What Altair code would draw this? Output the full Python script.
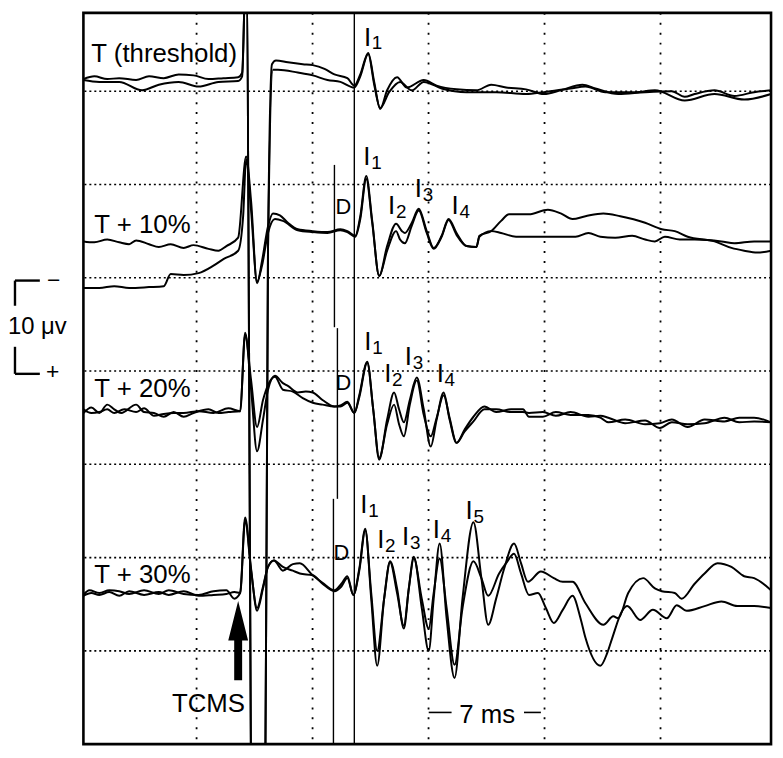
import altair as alt
import pandas as pd

# ---------------- data: time (ms) and potential (µV, plotted position) ----------------
# Sweep "T (threshold)"
t1a = [-6.83,-6.17,-5.39,-4.67,-3.65,-2.87,-1.98,-1.08,-0.18,0.72,1.62,2.51,2.75,2.99,3.41,4.07,4.31,4.55,4.79,5.51,6.41,7.01,7.72,8.32,9.10,9.52,9.88,10.36,10.72,11.08,11.50,12.10,12.69,13.71,14.49,15.69,16.89,17.78,18.68,19.88,20.96,21.98,23.29,24.07,25.45,27.07,28.68,29.46,30.06,31.26,32.46,33.65,34.67]
v1a = [71.3,71.6,71.3,71.4,71.2,71.6,71.4,71.8,71.7,71.3,71.4,71.5,72.0,84.8,-26.9,-26.9,52.9,72.9,73.3,73.1,72.9,72.8,72.4,71.8,71.4,70.6,71.8,74.1,71.0,68.1,70.1,71.5,70.4,71.2,70.6,70.2,70.1,70.7,70.4,70.2,69.7,70.1,70.7,70.3,69.7,69.9,70.0,69.4,69.7,70.1,69.5,69.9,70.1]
t1b = [-6.83,-5.87,-4.67,-3.29,-2.28,-1.08,0.12,1.32,2.51,2.75,2.99,3.41,4.07,4.31,4.61,4.91,6.11,7.01,7.90,8.68,9.52,9.88,10.36,10.72,11.08,11.62,12.28,12.99,13.71,14.79,16.29,18.08,19.88,20.96,22.57,23.47,24.67,26.47,27.66,29.46,31.26,33.05,34.67]
v1b = [71.2,71.0,71.0,70.1,70.7,71.0,70.5,71.0,71.1,71.6,84.8,-26.9,-26.9,52.9,72.3,72.3,72.0,71.7,71.2,71.0,70.4,71.6,74.0,70.7,68.2,69.9,71.0,70.1,71.0,70.3,69.9,69.9,69.7,69.9,70.3,70.5,69.9,69.9,70.1,69.0,69.7,69.1,69.7]

# Sweep "T + 10%"
t2a = [-6.83,-6.17,-5.39,-4.67,-4.07,-3.65,-2.87,-2.28,-1.56,-0.78,-0.18,0.72,1.32,1.80,2.51,2.99,3.29,3.65,3.95,4.31,4.61,5.03,5.51,6.11,7.01,7.90,8.68,9.10,9.58,9.88,10.24,10.60,11.02,11.50,12.04,12.40,12.57,12.99,13.41,13.89,14.31,14.79,15.21,15.69,16.29,16.89,17.07,17.78,18.38,18.86,20.06,21.20,21.98,22.69,23.47,24.55,25.57,27.07,28.08,28.86,29.64,31.26,32.28,33.05,33.83,34.67]
v2a = [53.9,53.8,54.1,53.8,53.6,54.0,53.6,53.3,53.6,53.2,53.5,53.1,52.9,53.4,54.3,63.0,58.2,49.4,51.8,55.5,56.9,56.7,55.9,55.2,55.0,54.9,55.2,55.0,54.5,56.6,60.9,56.1,50.2,53.4,55.8,55.0,54.8,55.9,57.4,55.0,53.2,54.5,56.3,54.8,53.4,53.3,54.5,55.0,56.1,56.8,56.8,57.3,56.9,56.3,56.6,56.9,56.6,55.9,55.2,55.0,54.4,53.9,53.2,52.9,52.7,52.9]
t2b = [-6.83,-5.87,-4.97,-4.07,-2.87,-1.98,-1.56,-0.78,0.12,1.02,1.62,2.51,2.81,2.99,3.29,3.65,3.95,4.31,4.73,5.21,6.11,7.01,7.90,8.68,9.10,9.58,9.88,10.24,10.60,11.02,11.50,12.04,12.28,12.57,12.99,13.41,13.89,14.31,14.79,15.21,15.69,16.29,16.89,17.07,17.78,18.38,19.28,20.48,21.68,22.87,23.65,24.37,25.27,26.29,27.07,27.66,28.26,29.16,30.06,31.68,32.46,33.65,34.67]
v2b = [48.9,48.9,49.1,48.9,49.0,49.1,50.4,50.3,50.5,51.3,52.0,52.9,56.6,62.7,57.2,49.6,51.3,54.8,56.3,56.1,55.1,54.9,54.8,55.1,54.9,54.4,56.3,60.6,55.9,50.2,52.9,55.0,54.1,53.7,55.6,57.2,54.8,53.1,54.4,56.2,54.6,53.4,53.3,54.4,55.0,54.8,54.4,54.4,54.4,54.4,54.8,54.4,54.3,54.5,54.1,53.9,54.4,54.1,54.1,53.9,53.7,53.9,53.9]

# Sweep "T + 20%"
t3a = [-6.83,-6.35,-5.87,-5.39,-4.97,-4.55,-3.65,-3.17,-2.57,-1.98,-1.38,-0.78,-0.18,0.72,1.32,1.92,2.63,2.93,3.29,3.65,4.01,4.31,4.73,5.21,5.51,6.11,6.59,7.01,7.60,8.32,8.68,9.10,9.52,9.82,10.30,10.66,11.02,11.50,11.92,12.22,12.51,12.87,13.29,13.71,14.13,14.49,14.91,15.27,15.69,16.17,16.71,17.37,18.08,18.98,19.70,20.06,20.90,21.68,22.57,23.65,24.37,24.85,25.87,27.07,27.96,28.68,29.64,30.66,31.86,32.75,33.65,34.67]
v3a = [35.5,36.1,35.5,36.4,35.9,35.5,36.4,35.6,35.5,35.1,35.6,35.1,35.5,35.9,35.5,35.6,35.7,44.1,38.0,31.4,34.8,38.0,39.5,38.7,38.4,37.7,37.8,37.7,36.9,36.2,36.3,36.7,35.5,37.4,41.0,35.9,30.5,34.8,37.7,35.9,34.5,36.9,39.3,35.9,31.9,34.8,37.7,34.8,32.3,33.7,35.1,36.2,35.6,35.9,35.9,35.1,35.1,35.6,35.3,35.3,35.0,34.5,34.8,34.3,34.4,34.8,34.0,34.8,34.6,35.0,35.0,34.5]
t3b = [-6.83,-6.35,-5.87,-5.39,-4.97,-4.37,-3.65,-3.17,-2.57,-1.98,-1.38,-0.78,0.12,1.02,1.92,2.63,2.93,3.29,3.65,4.01,4.31,4.73,5.21,5.81,6.41,7.01,7.60,8.32,8.68,9.10,9.52,9.82,10.30,10.66,11.02,11.50,11.92,12.22,12.51,12.87,13.29,13.71,14.13,14.49,14.91,15.27,15.69,16.17,16.71,17.37,18.08,18.98,19.70,20.06,20.90,21.68,22.57,23.65,24.37,24.85,25.87,27.07,27.96,28.68,29.64,30.66,31.86,32.75,33.65,34.67]
v3b = [35.9,35.5,35.6,35.9,35.5,35.9,35.6,36.0,35.2,35.4,35.5,35.5,35.7,35.5,36.0,35.7,43.9,39.0,34.0,36.9,38.5,39.4,38.0,37.8,37.1,36.6,36.4,36.2,36.2,36.6,35.5,37.2,40.9,35.9,30.7,34.3,36.4,34.3,33.0,36.4,39.0,35.3,33.0,35.0,37.4,35.0,32.3,33.5,34.6,35.9,35.9,35.6,35.6,35.5,35.6,35.2,35.6,35.1,35.2,35.0,34.4,34.7,33.9,34.5,34.3,34.4,35.0,34.5,34.6,34.5]

# Sweep "T + 30%"
t4a = [-6.83,-6.47,-5.87,-5.27,-4.67,-4.07,-3.17,-2.28,-1.68,-0.78,0.12,1.02,1.80,2.28,2.63,2.93,3.29,3.65,4.01,4.31,4.67,5.21,5.81,6.23,7.01,7.60,8.32,8.74,9.10,9.46,9.82,10.18,10.54,10.90,11.32,11.68,12.10,12.51,12.81,13.11,13.59,14.01,14.31,14.67,15.09,15.57,16.05,16.71,17.19,17.60,18.08,18.56,19.16,19.58,20.00,20.78,21.56,22.10,22.69,23.47,24.55,25.15,25.45,26.05,26.95,27.66,28.08,28.86,29.28,30.06,30.66,31.44,32.28,33.05,33.65,34.67]
v4a = [16.0,16.5,16.2,16.5,16.4,16.1,16.5,16.1,16.5,16.1,16.0,16.4,16.5,15.6,16.2,24.3,18.8,14.3,16.7,19.0,19.7,19.0,18.6,18.3,18.1,17.2,16.4,16.9,17.8,16.0,18.8,23.1,15.6,8.4,15.6,19.6,16.7,12.4,16.7,20.1,14.6,10.0,15.6,21.5,13.5,7.1,15.6,23.8,17.8,12.8,15.6,18.8,21.5,19.4,17.4,18.5,17.8,17.4,17.4,15.1,12.8,13.7,13.5,16.2,17.8,16.7,16.4,16.2,15.6,17.2,18.3,19.4,19.0,18.0,17.8,16.5]
t4b = [-6.83,-6.35,-5.87,-5.27,-4.67,-4.07,-3.17,-2.28,-1.68,-0.78,0.12,1.02,1.80,2.28,2.63,2.93,3.29,3.65,4.01,4.31,4.67,5.21,5.81,6.23,7.01,7.60,8.32,8.74,9.10,9.46,9.82,10.18,10.54,10.90,11.32,11.68,12.10,12.51,12.81,13.11,13.59,14.01,14.31,14.67,15.09,15.57,16.05,16.71,17.19,17.60,18.26,18.68,19.16,19.58,20.06,20.60,21.08,21.56,22.10,22.69,23.17,23.47,24.37,24.79,25.09,25.69,25.99,26.77,27.54,28.38,28.98,29.58,30.66,31.68,32.63,33.65,34.67]
v4b = [15.9,16.2,16.0,16.3,15.9,16.4,16.0,16.3,16.0,16.4,15.9,16.0,16.1,16.3,16.2,24.0,18.6,14.6,16.9,19.0,19.7,18.6,19.3,19.4,18.1,17.3,16.5,17.2,18.0,16.0,18.6,22.9,16.2,10.0,15.6,19.5,16.2,12.7,16.7,19.9,15.6,12.4,16.2,19.9,14.6,8.5,14.6,19.6,17.8,15.9,18.3,19.4,20.4,18.3,16.0,16.2,14.6,13.0,14.4,15.9,13.5,11.4,8.4,9.8,11.4,14.3,14.8,13.3,14.4,13.5,14.9,14.3,14.8,15.3,14.8,14.8,14.6]

# grid (ms, µV)
grid_t = [0, 7, 14, 21, 28]
grid_v = [10, 20, 30, 40, 50, 60, 70]

# sweep names
sweep_labels = ["T (threshold)", "T + 10%", "T + 20%", "T + 30%"]
sweep_label_t = [-6.35, -6.17, -6.17, -6.17]
sweep_label_v = [73.1, 54.8, 37.2, 17.3]

# wave labels (I-waves)
wave_sub = ["1", "1", "2", "3", "4", "1", "2", "3", "4", "1", "2", "3", "4", "5"]
wave_t = [10.1, 10.06, 11.56, 13.17, 15.39, 10.12, 11.32, 12.57, 14.49, 9.88, 10.90, 12.40, 14.25, 16.23]
wave_v = [74.9, 62.1, 56.8, 58.7, 56.8, 42.3, 38.8, 40.6, 38.8, 24.8, 21.0, 21.4, 22.1, 24.1]

# D-wave labels
d_t = [8.38, 8.38, 8.26]
d_v = [56.8, 38.0, 19.7]

# latency markers (solid vertical lines)
mark_t = [9.52, 8.32, 8.50, 8.26]
mark_v1 = [0.0, 44.7, 26.3, 0.0]
mark_v2 = [78.4, 62.1, 44.6, 26.3]

X_MIN, X_MAX = -6.83, 34.67
Y_MIN, Y_MAX = 0.0, 78.4

# ---------------- build tables ----------------
rows = []
for name, ts, vs in [("1a", t1a, v1a), ("1b", t1b, v1b), ("2a", t2a, v2a), ("2b", t2b, v2b),
                     ("3a", t3a, v3a), ("3b", t3b, v3b), ("4a", t4a, v4a), ("4b", t4b, v4b)]:
    for i, (t, v) in enumerate(zip(ts, vs)):
        rows.append({"trace": name, "i": i, "t": t, "v": v})
traces = pd.DataFrame(rows)

xs = alt.Scale(domain=[X_MIN, X_MAX], nice=False, zero=False)
ys = alt.Scale(domain=[Y_MIN, Y_MAX], nice=False, zero=False)


def X(f="t"):
    return alt.X(f, type="quantitative", scale=xs, axis=None)


def Y(f="v"):
    return alt.Y(f, type="quantitative", scale=ys, axis=None)


FONT = "Liberation Sans"

vgrid = alt.Chart(pd.DataFrame({"t": grid_t})).mark_rule(
    color="black", strokeWidth=1.8, strokeDash=[2, 8]
).encode(x=X())

hgrid = alt.Chart(pd.DataFrame({"v": grid_v})).mark_rule(
    color="black", strokeWidth=1.6, strokeDash=[2, 3]
).encode(y=Y())

markers = alt.Chart(pd.DataFrame({"t": mark_t, "v": mark_v1, "v2": mark_v2})).mark_rule(
    color="black", strokeWidth=1.4
).encode(x=X(), y=Y(), y2="v2:Q")

lines = alt.Chart(traces).mark_line(
    color="black", strokeWidth=2.0, interpolate="monotone", clip=True
).encode(x=X(), y=Y(), detail="trace:N", order="i:Q")

sweep_text = alt.Chart(pd.DataFrame({"t": sweep_label_t, "v": sweep_label_v, "label": sweep_labels})).mark_text(
    align="left", baseline="alphabetic", fontSize=26, font=FONT, color="black"
).encode(x=X(), y=Y(), text="label:N")

wave_df = pd.DataFrame({"t": wave_t, "v": wave_v, "sub": wave_sub})
wave_I = alt.Chart(wave_df).mark_text(
    align="left", baseline="alphabetic", fontSize=26, font=FONT, color="black"
).encode(x=X(), y=Y(), text=alt.value("I"))
wave_S = alt.Chart(wave_df).mark_text(
    align="left", baseline="alphabetic", fontSize=19, font=FONT, color="black", dx=8, dy=4
).encode(x=X(), y=Y(), text="sub:N")

d_text = alt.Chart(pd.DataFrame({"t": d_t, "v": d_v})).mark_text(
    align="left", baseline="alphabetic", fontSize=22, font=FONT, color="black"
).encode(x=X(), y=Y(), text=alt.value("D"))

# stimulus arrow and label
arrow_path = "M0,-2L0.5,0L0.2,0L0.2,2L-0.2,2L-0.2,0L-0.5,0Z"
arrow = alt.Chart(pd.DataFrame({"t": [2.51], "v": [11.1]})).mark_point(
    shape=arrow_path, size=1600, filled=True, color="black", opacity=1, strokeWidth=0
).encode(x=X(), y=Y())
tcms = alt.Chart(pd.DataFrame({"t": [0.72], "v": [3.4], "label": ["TCMS"]})).mark_text(
    align="center", baseline="alphabetic", fontSize=26, font=FONT, color="black"
).encode(x=X(), y=Y(), text="label:N")

# time calibration
ms_text = alt.Chart(pd.DataFrame({"t": [17.54], "v": [2.3], "label": ["7 ms"]})).mark_text(
    align="center", baseline="alphabetic", fontSize=26, font=FONT, color="black"
).encode(x=X(), y=Y(), text="label:N")
ms_dash = alt.Chart(pd.DataFrame({"t": [14.01, 19.76], "t2": [15.39, 20.78], "v": [3.4, 3.4]})).mark_rule(
    color="black", strokeWidth=1.6
).encode(x=X(), x2="t2:Q", y=Y())

# amplitude calibration (outside the frame)
cal = pd.DataFrame({
    "t":  [-10.96, -10.96, -10.96, -10.96],
    "t2": [-10.96, -9.46, -10.96, -9.46],
    "v":  [49.7, 49.7, 42.6, 39.7],
    "v2": [47.0, 49.7, 39.7, 39.7],
})
cal_rules = alt.Chart(cal).mark_rule(color="black", strokeWidth=2.4).encode(
    x=X(), x2="t2:Q", y=Y(), y2="v2:Q"
)
cal_text_l = alt.Chart(pd.DataFrame({"t": [-11.38], "v": [44.0], "label": ["10 μv"]})).mark_text(
    align="left", baseline="alphabetic", fontSize=24, font=FONT, color="black"
).encode(x=X(), y=Y(), text="label:N")
cal_text_c = alt.Chart(pd.DataFrame({"t": [-8.62, -8.68], "v": [48.9, 39.1], "label": ["−", "+"]})).mark_text(
    align="center", baseline="alphabetic", fontSize=23, font=FONT, color="black"
).encode(x=X(), y=Y(), text="label:N")

chart = alt.layer(
    vgrid, hgrid, markers, lines, sweep_text, wave_I, wave_S, d_text,
    arrow, tcms, ms_text, ms_dash, cal_rules, cal_text_l, cal_text_c
).properties(
    width=693, height=737,
    autosize=alt.AutoSizeParams(type="none"),
    padding={"left": 76, "top": 2, "right": 4, "bottom": 4},
    background="white",
).configure_view(stroke="black", strokeWidth=2.6)

chart.save("out.html", embed_options={"renderer": "svg", "actions": False})
